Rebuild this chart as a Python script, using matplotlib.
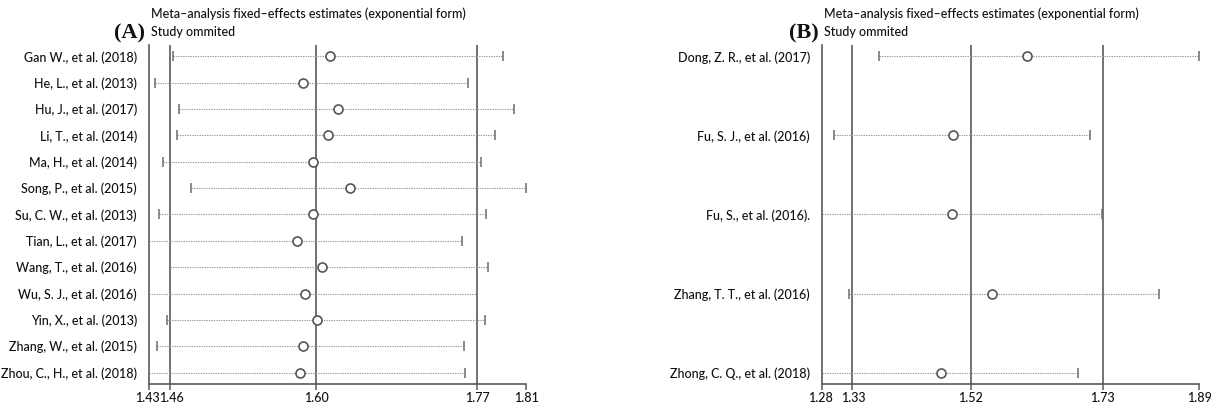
import matplotlib
matplotlib.use("Agg")
import matplotlib.pyplot as plt
from matplotlib.ticker import FixedLocator, NullLocator
from matplotlib.transforms import ScaledTranslation

# Panel A: study omitted, estimate with lower / upper CI
studies_a = ["Gan W., et al. (2018)", "He, L., et al. (2013)", "Hu, J., et al. (2017)",
             "Li, T., et al. (2014)", "Ma, H., et al. (2014)", "Song, P., et al. (2015)",
             "Su, C. W., et al. (2013)", "Tian, L., et al. (2017)", "Wang, T., et al. (2016)",
             "Wu, S. J., et al. (2016)", "Yin, X., et al. (2013)", "Zhang, W., et al. (2015)",
             "Zhou, C., H., et al. (2018)"]
est_a = [1.614, 1.587, 1.622, 1.612, 1.597, 1.634, 1.597, 1.581, 1.606, 1.589, 1.601, 1.587, 1.584]
lo_a = [1.463, 1.446, 1.468, 1.466, 1.453, 1.479, 1.450, 1.441, 1.460, 1.441, 1.457, 1.448, 1.441]
hi_a = [1.799, 1.760, 1.811, 1.790, 1.774, 1.825, 1.779, 1.753, 1.782, 1.770, 1.778, 1.755, 1.756]
overall_a = [1.46, 1.60, 1.77]
ticklabels_a = ["1.43", "1.46", "1.60", "1.77", "1.81"]

# Panel B
studies_b = ["Dong, Z. R., et al. (2017)", "Fu, S. J., et al. (2016)", "Fu, S., et al. (2016).",
             "Zhang, T. T., et al. (2016)", "Zhong, C. Q., et al. (2018)"]
est_b = [1.609, 1.491, 1.489, 1.553, 1.472]
lo_b = [1.373, 1.302, 1.283, 1.326, 1.283]
hi_b = [1.884, 1.709, 1.729, 1.820, 1.691]
overall_b = [1.33, 1.52, 1.73]
ticklabels_b = ["1.28", "1.33", "1.52", "1.73", "1.89"]

title_1 = "Meta\u2013analysis fixed\u2013effects estimates (exponential form)"
title_2 = "Study ommited"

FS = 9
plt.rcParams["font.family"] = ["Lato", "DejaVu Sans"]
plt.rcParams["font.weight"] = "medium"

TXT = "#111111"
LINE = "#5a5a5a"

fig = plt.figure(figsize=(12.17, 4.11), dpi=100)
W, H = 1217, 411


def panel(left_px, studies, est, lo, hi, overall, ticklabels, letter, log):
    ax = fig.add_axes([left_px / W, (H - 384) / H, 377 / W, 339 / H])
    n = len(studies)
    ys = list(range(n))
    if log:
        ax.set_xscale("log")
    xmin, xmax = min(lo), max(hi)
    ax.set_xlim(xmin, xmax)
    pad = 11.5 / (316 / (n - 1))
    ax.set_ylim(n - 1 + pad, -pad)

    for v in overall:
        ax.axvline(v, color=LINE, lw=1.2, zorder=1)
    ax.hlines(ys, lo, hi, colors="#9a9a9a", lw=0.8, linestyles=(0, (1.2, 1.0)), zorder=2)
    ax.plot(lo, ys, ls="none", marker="|", ms=7, mew=1.2, color="#777777", zorder=3)
    ax.plot(hi, ys, ls="none", marker="|", ms=7, mew=1.2, color="#777777", zorder=3)
    ax.plot(est, ys, ls="none", marker="o", ms=6.5, mfc="white", mec="#555555", mew=1.2, zorder=4)

    ax.set_yticks(ys)
    ax.set_yticklabels(studies, fontsize=FS, color=TXT)
    ax.tick_params(axis="y", length=0, pad=9)
    ax.xaxis.set_major_locator(FixedLocator([xmin] + overall + [xmax]))
    ax.xaxis.set_minor_locator(NullLocator())
    labels = ax.set_xticklabels(ticklabels, fontsize=FS, color=TXT)
    ax.tick_params(axis="x", length=4, width=1.1, color=LINE, pad=2)
    # first two ticks sit close together; nudge them apart a little
    labels[0].set_transform(labels[0].get_transform() + ScaledTranslation(-2 / 100, 0, fig.dpi_scale_trans))
    labels[1].set_transform(labels[1].get_transform() + ScaledTranslation(1.5 / 100, 0, fig.dpi_scale_trans))
    for s in ("top", "right"):
        ax.spines[s].set_visible(False)
    for s in ("left", "bottom"):
        ax.spines[s].set_color(LINE)
        ax.spines[s].set_linewidth(1.2)

    fig.text((left_px + 2) / W, 1 - 14 / H, title_1, fontsize=FS, color=TXT, va="center")
    fig.text((left_px + 2) / W, 1 - 31.5 / H, title_2, fontsize=FS, color=TXT, va="center")
    fig.text((left_px - 4) / W, 1 - 33 / H, letter, fontsize=16, fontweight="bold",
             family="Liberation Serif", color=TXT, ha="right", va="center")
    return ax


panel(149.3, studies_a, est_a, lo_a, hi_a, overall_a, ticklabels_a, "(A)", True)
panel(822.3, studies_b, est_b, lo_b, hi_b, overall_b, ticklabels_b, "(B)", False)

fig.savefig("out.png", dpi=100)
